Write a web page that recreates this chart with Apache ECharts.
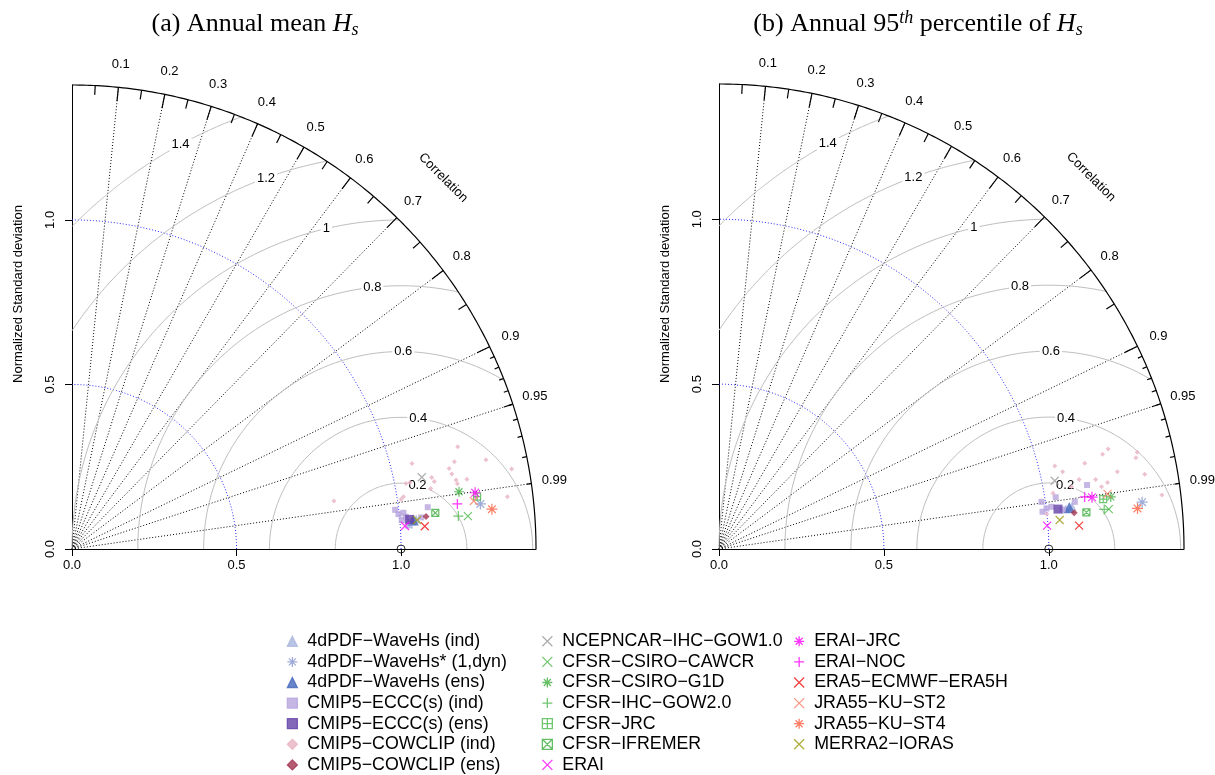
<!DOCTYPE html>
<html>
<head>
<meta charset="utf-8">
<script src="https://cdn.jsdelivr.net/npm/echarts@6.0.0/dist/echarts.min.js"></script>
<style>
html,body{margin:0;padding:0;background:#ffffff;}
#chart{width:1215px;height:775px;}
</style>
</head>
<body>
<div id="chart"></div>
<script>
// ================= DATA =================
const modelNames = [
  '4dPDF\u2212WaveHs (ind)', '4dPDF\u2212WaveHs* (1,dyn)', '4dPDF\u2212WaveHs (ens)',
  'CMIP5\u2212ECCC(s) (ind)', 'CMIP5\u2212ECCC(s) (ens)', 'CMIP5\u2212COWCLIP (ind)', 'CMIP5\u2212COWCLIP (ens)',
  'NCEPNCAR\u2212IHC\u2212GOW1.0', 'CFSR\u2212CSIRO\u2212CAWCR', 'CFSR\u2212CSIRO\u2212G1D', 'CFSR\u2212IHC\u2212GOW2.0',
  'CFSR\u2212JRC', 'CFSR\u2212IFREMER', 'ERAI',
  'ERAI\u2212JRC', 'ERAI\u2212NOC', 'ERA5\u2212ECMWF\u2212ERA5H', 'JRA55\u2212KU\u2212ST2', 'JRA55\u2212KU\u2212ST4', 'MERRA2\u2212IORAS'
];
const panelTitles = ['(a) Annual mean {i|H}{sub|s}', '(b) Annual 95{sup|th} percentile of {i|H}{sub|s}'];
const yAxisTitle = 'Normalized Standard deviation';
const corTitle = 'Correlation';

// axis & reference values (normalized standard deviation / correlation)
const maxSD = 1.41;
const sdTicks = [0, 0.5, 1.0];
const sdArcs = [0.5, 1.0];
const rmsLevels = [0.2, 0.4, 0.6, 0.8, 1, 1.2, 1.4];
const corLabels = [0.1, 0.2, 0.3, 0.4, 0.5, 0.6, 0.7, 0.8, 0.9, 0.95, 0.99];
const corLines = [0.1, 0.2, 0.3, 0.4, 0.5, 0.6, 0.7, 0.8, 0.9, 0.95, 0.99];
const corBigTicks = [0.1, 0.2, 0.3, 0.4, 0.5, 0.6, 0.7, 0.8, 0.9];
const corMedTicks = [0.05, 0.15, 0.25, 0.35, 0.45, 0.55, 0.65, 0.75, 0.85, 0.95];
const corSmallTicks = [0.91, 0.92, 0.93, 0.94, 0.95, 0.96, 0.97, 0.98, 0.99];
const refPoint = [[1.0, 0.0]];

// Points are [sd*cor, sd*sqrt(1-cor^2)] read on the normalized-sd axes.
// ---- panel (a) annual mean Hs ----
const a_4dPDF_ind = [[1.033, 0.085], [1.046, 0.091], [1.024, 0.076]];
const a_ECCC_ind = [[0.982, 0.119], [1.007, 0.110], [1.014, 0.098], [1.002, 0.088],
                    [1.081, 0.127], [1.061, 0.096], [1.020, 0.083], [0.992, 0.106]];
const a_COWCLIP_ind = [[1.172, 0.311], [1.033, 0.260], [1.162, 0.265], [1.146, 0.245], [1.258, 0.271],
                       [1.154, 0.228], [1.167, 0.210], [1.171, 0.198], [1.200, 0.212], [1.093, 0.217],
                       [1.101, 0.205], [1.090, 0.184], [1.027, 0.202], [1.015, 0.199], [1.007, 0.159],
                       [1.000, 0.151], [1.323, 0.159], [1.336, 0.243], [0.796, 0.146]];
// single-point products, in the order of modelNames indices 1,2,4,6,7..19
const a_single = [[1.241, 0.137], [1.037, 0.088], [1.026, 0.090], [1.076, 0.099],
                  [1.063, 0.218], [1.203, 0.100], [1.176, 0.174], [1.174, 0.100], [1.231, 0.159],
                  [1.104, 0.110], [1.012, 0.070], [1.225, 0.171], [1.171, 0.137], [1.072, 0.069],
                  [1.221, 0.146], [1.276, 0.121], [1.049, 0.088]];

// ---- panel (b) annual 95th percentile of Hs ----
const b_4dPDF_ind = [[1.052, 0.121], [1.070, 0.130]];
const b_ECCC_ind = [[1.116, 0.194], [1.021, 0.157], [0.978, 0.143], [0.993, 0.123],
                    [1.042, 0.120], [0.981, 0.113], [1.079, 0.143], [1.008, 0.128]];
const b_COWCLIP_ind = [[1.180, 0.303], [1.163, 0.287], [1.268, 0.293], [1.264, 0.277], [1.018, 0.252],
                       [1.109, 0.260], [1.042, 0.234], [1.208, 0.234], [1.291, 0.227], [1.178, 0.202],
                       [1.142, 0.211], [1.092, 0.211], [1.343, 0.164], [1.013, 0.169], [1.069, 0.189],
                       [1.160, 0.189], [0.994, 0.106]];
const b_single = [[1.283, 0.142], [1.062, 0.126], [1.028, 0.121], [1.077, 0.110],
                  [1.018, 0.207], [1.182, 0.121], [1.188, 0.158], [1.168, 0.120], [1.165, 0.151],
                  [1.114, 0.111], [0.995, 0.071], [1.131, 0.157], [1.109, 0.158], [1.092, 0.071],
                  [1.178, 0.167], [1.269, 0.123], [1.033, 0.088]];

// ================= STYLE =================
const SYM_X = 'path://M0,0L10,10M10,0L0,10';
const SYM_PLUS = 'path://M5,0L5,10M0,5L10,5';
const SYM_AST = 'path://M5,0L5,10M0,5L10,5M1.5,1.5L8.5,8.5M8.5,1.5L1.5,8.5';
const SYM_BOXPLUS = 'path://M0,0L10,0L10,10L0,10ZM5,0L5,10M0,5L10,5';
const SYM_BOXX = 'path://M0,0L10,0L10,10L0,10ZM0,0L10,10M10,0L0,10';
const symColors = ['#a9b5dd', '#8797d0', '#4466bb', '#b7a4dd', '#6441a8', '#e8b3c3', '#a3324f',
                   '#9a9a9a', '#4cb84c', '#3fae3f', '#4cb84c', '#4cb84c', '#3fae3f', '#ff00ff',
                   '#ff00ff', '#ff00ff', '#ee1111', '#fa8068', '#fb5f3f', '#9a9a10'];
const symShapes = ['triangle', SYM_AST, 'triangle', 'rect', 'rect', 'diamond', 'diamond',
                   SYM_X, SYM_X, SYM_AST, SYM_PLUS, SYM_BOXPLUS, SYM_BOXX, SYM_X,
                   SYM_AST, SYM_PLUS, SYM_X, SYM_X, SYM_AST, SYM_X];
const symSizes = [9, 11, 11, 6, 9, 5, 7, 8, 8, 10, 10, 7, 7, 8, 11, 10, 8, 8, 11, 8];
const symStroke = [false, true, false, false, false, false, false, true, true, true, true, true, true, true,
                   true, true, true, true, true, true];
const rmsLabelAngles = [44, 48, 52, 56, 60, 64, 69].map(k => k * 0.03); // radians, as plotrix places them
const FONT = '"Liberation Sans", Arial, Helvetica, sans-serif';
const SERIF = '"Liberation Serif", "Times New Roman", serif';

function buildPanel(ind4d, indEccc, indCow, single) {
  const out = [];
  let s = 0;
  for (let i = 0; i < modelNames.length; i++) {
    if (i === 0) out.push(ind4d);
    else if (i === 3) out.push(indEccc);
    else if (i === 5) out.push(indCow);
    else out.push([single[s++]]);
  }
  return out;
}
const panels = [
  buildPanel(a_4dPDF_ind, a_ECCC_ind, a_COWCLIP_ind, a_single),
  buildPanel(b_4dPDF_ind, b_ECCC_ind, b_COWCLIP_ind, b_single)
];

function pol(r, c) { return [r * c, r * Math.sqrt(Math.max(0, 1 - c * c))]; }

const grids = [
  { left: 72, top: 85, width: 464, height: 464 },
  { left: 719, top: 84, width: 465, height: 465 }
];

// Taylor-diagram frame drawn through the cartesian scales
function renderFrame(p, api) {
  const ch = [];
  const o = api.coord([0, 0]);
  // correlation rays (dotted)
  corLines.forEach(c => {
    const b = api.coord(pol(maxSD, c));
    ch.push({ type: 'line', shape: { x1: o[0], y1: o[1], x2: b[0], y2: b[1] },
              style: { stroke: '#000', lineWidth: 1, lineDash: [1, 2] } });
  });
  // sd arcs (blue dotted)
  sdArcs.forEach(r => {
    const pts = [];
    for (let k = 0; k <= 120; k++) {
      const t = k / 120 * Math.PI / 2;
      pts.push(api.coord([r * Math.cos(t), r * Math.sin(t)]));
    }
    ch.push({ type: 'polyline', shape: { points: pts },
              style: { stroke: '#2a2aff', lineWidth: 1, lineDash: [1, 2], fill: null } });
  });
  // centred RMS difference arcs (gray) with boxed labels
  rmsLevels.forEach((R, idx) => {
    const cmin = (maxSD * maxSD - 1 - R * R) / (2 * R);
    const t0 = cmin >= 1 ? 0 : Math.acos(Math.max(-1, cmin));
    const t1 = R >= 1 ? Math.acos(-1 / R) : Math.PI;
    const pts = [];
    for (let k = 0; k <= 160; k++) {
      const t = t0 + (t1 - t0) * k / 160;
      pts.push(api.coord([1 + R * Math.cos(t), R * Math.sin(t)]));
    }
    ch.push({ type: 'polyline', shape: { points: pts }, style: { stroke: '#bdbdbd', lineWidth: 1, fill: null } });
    const la = rmsLabelAngles[idx];
    const lp = api.coord([1 + R * Math.cos(la), R * Math.sin(la)]);
    ch.push({ type: 'text', x: lp[0], y: lp[1],
              style: { text: String(R), font: '13px ' + FONT, fill: '#000', align: 'center', verticalAlign: 'middle',
                       backgroundColor: '#fff', padding: [0, 2] } });
  });
  // outer arc
  const pts = [];
  for (let k = 0; k <= 200; k++) {
    const t = k / 200 * Math.PI / 2;
    pts.push(api.coord([maxSD * Math.cos(t), maxSD * Math.sin(t)]));
  }
  ch.push({ type: 'polyline', shape: { points: pts }, style: { stroke: '#000', lineWidth: 1.2, fill: null } });
  // correlation ticks
  const addTicks = (arr, f) => arr.forEach(c => {
    const a = api.coord(pol(maxSD, c)), b = api.coord(pol(maxSD * f, c));
    ch.push({ type: 'line', shape: { x1: a[0], y1: a[1], x2: b[0], y2: b[1] },
              style: { stroke: '#000', lineWidth: 1.2 } });
  });
  addTicks(corBigTicks, 0.97);
  addTicks(corMedTicks, 0.98);
  addTicks(corSmallTicks, 0.99);
  // correlation labels
  corLabels.forEach(c => {
    const q = api.coord(pol(1.05 * maxSD, c));
    ch.push({ type: 'text', x: q[0], y: q[1],
              style: { text: String(c), font: '13px ' + FONT, fill: '#000', align: 'center', verticalAlign: 'middle' } });
  });
  const cp = api.coord([0.8 * maxSD, 0.8 * maxSD]);
  ch.push({ type: 'text', x: cp[0], y: cp[1], rotation: -Math.PI / 4,
            style: { text: corTitle, font: '13px ' + FONT, fill: '#000', align: 'center', verticalAlign: 'middle' } });
  return { type: 'group', children: ch };
}

const xAxes = [], yAxes = [], series = [];
grids.forEach((g, gi) => {
  xAxes.push({
    gridIndex: gi, type: 'value', min: 0, max: maxSD, interval: 0.5,
    axisLine: { show: true, lineStyle: { color: '#000', width: 1 } },
    axisTick: { show: true, length: 7, customValues: sdTicks, lineStyle: { color: '#000', width: 1 } },
    axisLabel: { show: true, customValues: sdTicks, margin: 10, color: '#000', fontSize: 13, fontFamily: FONT,
                 formatter: v => Number(v).toFixed(1) },
    splitLine: { show: false }
  });
  yAxes.push({
    gridIndex: gi, type: 'value', min: 0, max: maxSD, interval: 0.5,
    axisLine: { show: true, lineStyle: { color: '#000', width: 1 } },
    axisTick: { show: true, length: 7, customValues: sdTicks, lineStyle: { color: '#000', width: 1 } },
    axisLabel: { show: true, customValues: sdTicks, rotate: 90, margin: 15, color: '#000', fontSize: 13, fontFamily: FONT,
                 formatter: v => Number(v).toFixed(1) },
    splitLine: { show: false }
  });

  series.push({
    type: 'custom', xAxisIndex: gi, yAxisIndex: gi, clip: false, silent: true, animation: false,
    z: 1, data: [[0, 0]], renderItem: renderFrame
  });
  // reference point
  series.push({
    type: 'scatter', xAxisIndex: gi, yAxisIndex: gi, data: refPoint, symbol: 'circle', symbolSize: 8,
    itemStyle: { color: 'rgba(0,0,0,0)', borderColor: '#000', borderWidth: 1 }, z: 6, silent: true, animation: false
  });
  // products
  modelNames.forEach((name, i) => {
    series.push({
      type: 'scatter', name: name, xAxisIndex: gi, yAxisIndex: gi, data: panels[gi][i],
      symbol: symShapes[i], symbolSize: symSizes[i],
      itemStyle: symStroke[i]
        ? { color: 'rgba(0,0,0,0)', borderColor: symColors[i], borderWidth: 1.2 }
        : { color: symColors[i], borderColor: symColors[i], borderWidth: 0 },
      z: 10, silent: true, animation: false, emphasis: { disabled: true }
    });
  });
});

const legendLefts = [286.7, 541.7, 793.5];
const legendCols = [modelNames.slice(0, 7), modelNames.slice(7, 14), modelNames.slice(14)];
const legends = legendCols.map((col, k) => ({
  orient: 'vertical', left: legendLefts[k], top: 631, height: 170, padding: 0,
  itemWidth: 10, itemHeight: 10, itemGap: 0,
  selectedMode: false, data: col,
  itemStyle: { borderWidth: 1.3 },
  textStyle: { color: '#000', fontSize: 17.8, fontFamily: FONT, lineHeight: 20.6, padding: [0, 0, 0, 5] }
}));

const titleRich = {
  i: { font: 'italic 26px ' + SERIF, fill: '#000', lineHeight: 30 },
  sub: { font: 'italic 18px ' + SERIF, fill: '#000', lineHeight: 18, verticalAlign: 'bottom' },
  sup: { font: 'italic 18px ' + SERIF, fill: '#000', lineHeight: 18, verticalAlign: 'top' }
};

const chart = echarts.init(document.getElementById('chart'), null, { renderer: 'canvas' });
chart.setOption({
  backgroundColor: '#ffffff',
  animation: false,
  grid: grids,
  xAxis: xAxes,
  yAxis: yAxes,
  legend: legends,
  series: series,
  graphic: [
    { type: 'text', x: 255, y: 24, style: { text: panelTitles[0], font: '26px ' + SERIF, fill: '#000',
      align: 'center', verticalAlign: 'middle', lineHeight: 30, rich: titleRich } },
    { type: 'text', x: 918, y: 24, style: { text: panelTitles[1], font: '26px ' + SERIF, fill: '#000',
      align: 'center', verticalAlign: 'middle', lineHeight: 30, rich: titleRich } },
    { type: 'text', x: 18, y: 294, rotation: Math.PI / 2, style: { text: yAxisTitle, font: '13px ' + FONT,
      fill: '#000', align: 'center', verticalAlign: 'middle' } },
    { type: 'text', x: 665, y: 294, rotation: Math.PI / 2, style: { text: yAxisTitle, font: '13px ' + FONT,
      fill: '#000', align: 'center', verticalAlign: 'middle' } }
  ]
});
</script>
</body>
</html>
